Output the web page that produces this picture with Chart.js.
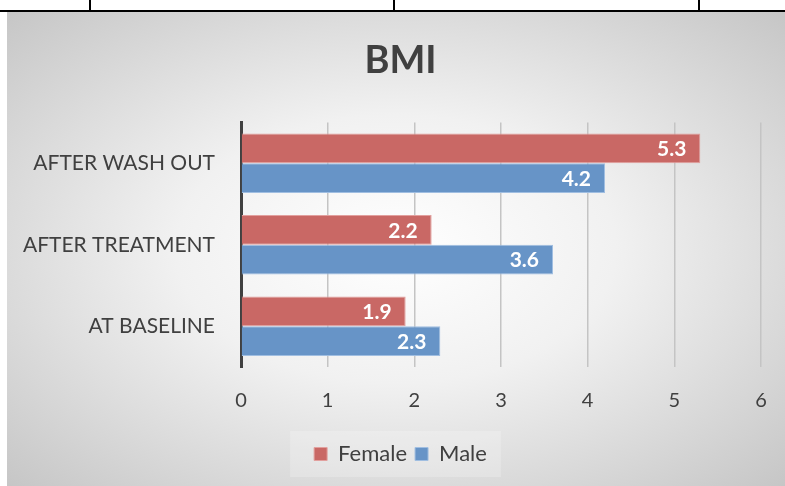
<!DOCTYPE html>
<html>
<head>
<meta charset="utf-8">
<script src="https://cdn.jsdelivr.net/npm/chart.js@4"></script>
<style>
  html, body { margin: 0; padding: 0; background: #fff; }
  body { width: 785px; height: 486px; position: relative; overflow: hidden; }
  /* the table the chart sits in */
  .rule-h { position: absolute; left: 0; top: 10px; width: 785px; height: 2px; background: #000; }
  .rule-v { position: absolute; top: 0; width: 2px; height: 11px; background: #000; }
  .frame {
    position: absolute; left: 7px; top: 12px; width: 778px; height: 474px;
    background: radial-gradient(ellipse farthest-corner at 50% 50%, #ffffff 0%, #f1f1f1 40%, #c6c6c6 100%);
  }
</style>
</head>
<body>
<div class="rule-h"></div>
<div class="rule-v" style="left:89px"></div>
<div class="rule-v" style="left:393px"></div>
<div class="rule-v" style="left:698px"></div>
<div class="frame"><canvas id="bmiChart" width="778" height="474"></canvas></div>

<script>
// Values
const categories = ['AFTER WASH OUT', 'AFTER TREATMENT', 'AT BASELINE'];
const femaleValues = [5.3, 2.2, 1.9];
const maleValues = [4.2, 3.6, 2.3];
const xTicks = [0, 1, 2, 3, 4, 5, 6];

const FONT = 'Lato, "Liberation Sans", sans-serif';
const TEXT = '#404040';

// White value text just inside the end of each bar
const barLabels = {
    id: 'barLabels',
    afterDatasetsDraw(chart) {
        const ctx = chart.ctx;
        ctx.save();
        ctx.font = 'bold 21px ' + FONT;
        ctx.fillStyle = '#ffffff';
        ctx.textAlign = 'right';
        ctx.textBaseline = 'middle';
        chart.data.datasets.forEach((ds, i) => {
            chart.getDatasetMeta(i).data.forEach((bar, j) => {
                ctx.fillText(ds.data[j].toFixed(1), bar.x - 14, bar.y + 1);
            });
        });
        ctx.restore();
    }
};

// Faint lighter panel behind the legend
const legendPanel = {
    id: 'legendPanel',
    beforeDraw(chart) {
        const boxes = chart.legend && chart.legend.legendHitBoxes;
        if (!boxes || !boxes.length) return;
        const left = Math.min(...boxes.map(b => b.left)) - 24;
        const right = Math.max(...boxes.map(b => b.left + b.width)) + 14;
        const mid = boxes[0].top + boxes[0].height / 2;
        const ctx = chart.ctx;
        ctx.save();
        ctx.fillStyle = 'rgba(255,255,255,0.22)';
        ctx.fillRect(left, mid - 23, right - left, 46);
        ctx.restore();
    }
};

new Chart(document.getElementById('bmiChart'), {
    type: 'bar',
    data: {
        labels: categories,
        datasets: [
            {
                label: 'Female',
                data: femaleValues,
                backgroundColor: 'rgb(201,104,101)',
                borderColor: 'rgb(226,160,158)',
                borderWidth: 1
            },
            {
                label: 'Male',
                data: maleValues,
                backgroundColor: 'rgb(103,148,199)',
                borderColor: 'rgb(160,190,225)',
                borderWidth: 1
            }
        ]
    },
    options: {
        indexAxis: 'y',
        responsive: false,
        animation: false,
        categoryPercentage: 0.73,
        barPercentage: 1,
        // left padding keeps title + legend centred like the original
        layout: { padding: { left: 33, right: 24, top: 0, bottom: 11 } },
        scales: {
            x: {
                min: 0,
                max: 6,
                afterBuildTicks: (scale) => { scale.ticks = xTicks.map(v => ({ value: v })); },
                // tick padding is only meant to be vertical here
                afterFit: (scale) => { scale.paddingLeft = 6; scale.paddingRight = 6; },
                grid: {
                    drawTicks: false,
                    color: (c) => c.tick && c.tick.value === 0 ? 'transparent' : '#c4c4c4',
                    lineWidth: 1.5
                },
                border: { display: false },
                ticks: { color: TEXT, padding: 22, font: { family: FONT, size: 20 } }
            },
            y: {
                afterFit: (scale) => {
                    scale.width = 201;
                    // let the long category names run into the left padding
                    scale._computeLabelArea = () => undefined;
                },
                grid: { display: false, drawTicks: false },
                border: { display: true, color: '#404040', width: 3 },
                ticks: { color: TEXT, padding: 26, font: { family: FONT, size: 21 } }
            }
        },
        plugins: {
            title: {
                display: true,
                text: 'BMI',
                color: TEXT,
                font: { family: FONT, size: 38, weight: 'bold' },
                padding: { top: 26, bottom: 39 }
            },
            legend: {
                position: 'bottom',
                labels: {
                    color: TEXT,
                    boxWidth: 13,
                    boxHeight: 13,
                    padding: 8,
                    font: { family: FONT, size: 22 }
                }
            },
            tooltip: { enabled: false }
        }
    },
    plugins: [legendPanel, barLabels]
});
</script>
</body>
</html>
